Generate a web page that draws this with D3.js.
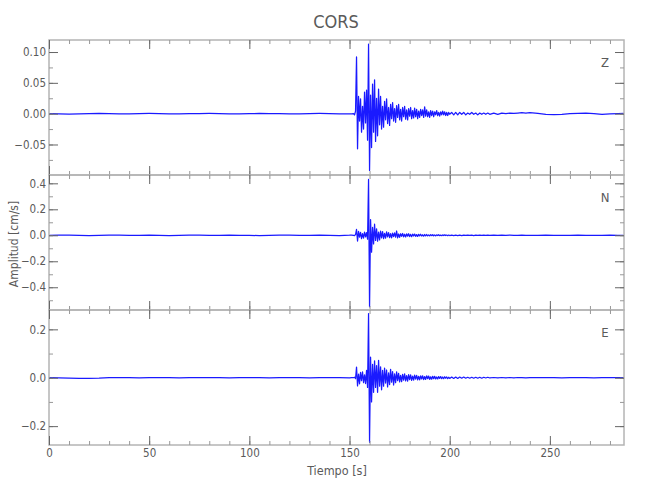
<!DOCTYPE html>
<html><head><meta charset="utf-8">
<script src="https://cdn.jsdelivr.net/npm/d3@7"></script>
<style>body{margin:0;background:#fff}</style>
</head><body><svg id="c" width="650" height="500"></svg>
<script>
// ---- DATA ----
const times = [0,5,10,15,20,25,30,35,40,45,50,55,60,65,70,75,80,85,90,95,100,105,110,115,120,125,130,135,140,145,150,151,
152,152.5,153,153.5,154,154.5,155,155.5,156,156.5,157,157.5,158,158.5,159,159.5,160,160.5,161,161.5,
162,162.5,163,163.5,164,164.5,165,165.5,166,166.5,167,167.5,168,168.5,169,169.5,170,170.5,171,171.5,
172,172.5,173,173.5,174,174.5,175,175.5,176,176.5,177,177.5,178,178.5,179,179.5,180,180.5,181,181.5,
182,182.5,183,183.5,184,184.5,185,185.5,186,186.5,187,187.5,188,188.5,189,189.5,190,190.5,191,191.5,
192,192.5,193,193.5,194,194.5,195,195.5,196,196.5,197,197.5,198,198.5,199,199.5,200,
201,202,203,204,205,206,207,208,209,210,211,212,213,214,215,216,217,218,219,220,
222,224,226,228,230,232,234,236,238,240,
244,248,252,256,260,264,268,272,276,280,284,287];

const ampZ = [0,-0.0005,-0.0008,-0.0003,0.0002,0.0004,0.0001,-0.0003,-0.0002,0.0001,0.0003,0.0002,-0.0002,-0.0004,-0.0001,0.0002,0.0003,0.0001,-0.0002,-0.0003,0,0.0003,0.0002,-0.0001,-0.0003,-0.0002,0.0002,0.0003,0.0001,-0.0002,-0.0003,-0.0005,
0.000,-0.002,0.004,0.092,-0.057,0.028,-0.012,0.024,-0.030,0.012,
-0.025,0.035,-0.015,0.038,-0.043,0.113,-0.092,0.030,-0.055,0.048,
-0.030,0.055,-0.045,0.025,-0.036,0.040,-0.018,0.028,-0.025,0.012,
-0.022,0.020,-0.010,0.024,-0.016,0.010,-0.019,0.015,-0.008,0.018,
-0.012,0.008,-0.014,0.013,-0.006,0.015,-0.010,0.007,-0.012,0.010,
-0.005,0.012,-0.009,0.006,-0.010,0.008,-0.004,0.010,-0.008,0.005,
-0.007,0.009,-0.005,0.007,-0.008,0.004,-0.006,0.007,-0.003,0.006,
-0.006,0.011,-0.004,0.006,-0.005,0.003,-0.006,0.005,-0.003,0.004,
-0.005,0.003,-0.002,0.005,-0.003,0.002,-0.004,0.003,-0.002,0.004,
-0.002,0.003,-0.003,0.002,-0.003,0.002,-0.001,
0.002,-0.002,0.002,-0.002,0.002,-0.001,0.002,-0.002,0.001,-0.001,0.002,-0.001,0.001,-0.002,0.001,-0.001,0.001,-0.001,0.001,-0.001,
0.001,-0.001,0.001,0,0.001,0.0005,0.001,0.0015,0.001,0.0015,
0.0005,-0.001,-0.0015,-0.001,0,0.0005,0.001,0,-0.001,-0.0005,0,0.0005];

const ampN = [0,0.002,0.001,-0.001,-0.002,0,0.002,0.001,-0.001,0,0.001,-0.001,-0.002,-0.001,0.001,0.002,0,-0.001,0.001,0,-0.001,-0.002,0,0.001,0.002,0,-0.001,0.001,0,-0.002,0.001,0.002,
0.000,-0.002,0.005,0.045,-0.044,0.030,-0.015,0.022,-0.025,0.012,
-0.022,0.025,-0.012,0.020,-0.030,0.430,-0.550,0.120,-0.130,0.060,
-0.067,0.085,-0.040,0.050,-0.045,0.025,-0.035,0.032,-0.020,0.028,
-0.025,0.015,-0.022,0.026,-0.012,0.020,-0.018,0.012,-0.020,0.016,
-0.010,0.018,-0.015,0.033,-0.020,0.010,-0.016,0.012,-0.008,0.014,
-0.012,0.008,-0.013,0.011,-0.007,0.012,-0.010,0.007,-0.011,0.009,
-0.006,0.009,-0.008,0.005,-0.009,0.007,-0.005,0.008,-0.006,0.004,
-0.007,0.006,-0.004,0.006,-0.005,0.003,-0.005,0.005,-0.003,0.004,
-0.004,0.003,-0.005,0.003,-0.002,0.004,-0.003,0.002,-0.003,0.003,
-0.002,0.003,-0.002,0.002,-0.003,0.002,-0.002,
0.002,-0.002,0.002,-0.002,0.002,-0.002,0.002,-0.001,0.002,-0.001,0.001,-0.002,0.001,-0.001,0.001,-0.001,0.001,-0.001,0.001,-0.001,
0.001,-0.001,0.001,0,0.001,-0.001,0,0.001,0,-0.001,
0,0.001,0,-0.001,0,0.001,0,-0.001,0,0.001,0,0];

const ampE = [0,-0.001,-0.002,-0.003,-0.003,-0.002,0,0.001,0,-0.001,0,0.001,0,-0.001,0,0.001,0.001,0,-0.001,0,0.001,0,-0.001,0,0.001,0,-0.001,0,0.001,0,-0.001,0,
0.000,0.002,-0.004,0.044,-0.034,0.015,-0.025,0.022,-0.012,0.024,
-0.020,0.012,-0.024,0.030,-0.040,0.265,-0.267,0.085,-0.100,0.055,
-0.060,0.070,-0.040,0.050,-0.060,0.072,-0.035,0.045,-0.050,0.030,
-0.035,0.040,-0.022,0.032,-0.038,0.020,-0.028,0.035,-0.018,0.025,
-0.030,0.016,-0.020,0.024,-0.012,0.018,-0.017,0.010,-0.016,0.014,
-0.010,0.016,-0.013,0.009,-0.014,0.013,-0.008,0.012,-0.011,0.007,
-0.010,0.011,-0.006,0.010,-0.009,0.006,-0.009,0.008,-0.005,0.008,
-0.008,0.005,-0.007,0.008,-0.004,0.007,-0.007,0.004,-0.006,0.006,
-0.004,0.006,-0.005,0.003,-0.005,0.005,-0.003,0.005,-0.004,0.003,
-0.004,0.004,-0.002,0.003,-0.004,0.002,-0.003,
0.003,-0.003,0.003,-0.003,0.003,-0.002,0.003,-0.002,0.002,-0.002,0.002,-0.002,0.002,-0.002,0.002,-0.002,0.002,-0.001,0.002,-0.001,
0.001,-0.001,0.001,-0.001,0.001,-0.001,0.001,0,-0.001,0,
0,0.001,0,-0.001,0,0.001,0,-0.001,0,0.001,0,0];

const channels = ["Z", "N", "E"];
const xDomain = [0, 287];
const xTickValues = [0, 50, 100, 150, 200, 250];
const zTicks = [-0.05, 0.00, 0.05, 0.10];
const nTicks = [-0.4, -0.2, 0.0, 0.2, 0.4];
const eTicks = [-0.2, 0.0, 0.2];
const zDomain = [-0.0995, 0.1195];
const nDomain = [-0.575, 0.464];
const eDomain = [-0.278, 0.280];
const titleText = "CORS";
const xLabel = "Tiempo [s]";
const yLabel = "Amplitud [cm/s]";

// ---- DRAWING ----
const FONT = "'DejaVu Sans Condensed','Liberation Sans Narrow',sans-serif";
const TXT = "#5a5a5a";
const svg = d3.select("#c");
const left = 49, right = 624, top0 = 40, ph = 135;
const x = d3.scaleLinear().domain(xDomain).range([left, right]);
const xMinor = d3.range(0, 287, 10);

const panels = [
  {name: channels[0], amp: ampZ, domain: zDomain, ticks: zTicks, minorStep: 0.025, fmt: ".2f"},
  {name: channels[1], amp: ampN, domain: nDomain, ticks: nTicks, minorStep: 0.1, fmt: ".1f"},
  {name: channels[2], amp: ampE, domain: eDomain, ticks: eTicks, minorStep: 0.1, fmt: ".1f"}
];

function styleAxis(g, major) {
  g.select(".domain").remove();
  g.selectAll(".tick line").attr("stroke", major ? "#666" : "#999").attr("stroke-width", 1);
  g.selectAll(".tick text").attr("fill", TXT).style("font-family", FONT).style("font-size", "11.5px");
}

const defs = svg.append("defs");
panels.forEach((p, i) => {
  const y0 = top0 + i * ph;
  const y = d3.scaleLinear().domain(p.domain).range([y0 + ph, y0]);
  defs.append("clipPath").attr("id", "clip" + i)
    .append("rect").attr("x", left).attr("y", y0).attr("width", right - left).attr("height", ph);

  const line = d3.line().x((d, j) => x(times[j])).y(d => y(d));
  svg.append("path").datum(p.amp)
    .attr("clip-path", `url(#clip${i})`)
    .attr("d", line).attr("fill", "none")
    .attr("stroke", "#1a1aff").attr("stroke-width", 1.25).attr("stroke-linejoin", "round");

  // frame
  svg.append("rect").attr("x", left).attr("y", y0).attr("width", right - left).attr("height", ph)
    .attr("fill", "none").attr("stroke", "#b4b4b4").attr("stroke-width", 1.5);

  const yMin = [];
  const k0 = Math.ceil(p.domain[0] / p.minorStep), k1 = Math.floor(p.domain[1] / p.minorStep);
  for (let k = k0; k <= k1; k++) yMin.push(+(k * p.minorStep).toFixed(4));

  svg.append("g").attr("transform", `translate(${left},0)`)
    .call(d3.axisLeft(y).tickValues(yMin).tickSizeInner(-4).tickSizeOuter(0).tickFormat(""))
    .call(g => styleAxis(g, false));
  svg.append("g").attr("transform", `translate(${left},0)`)
    .call(d3.axisLeft(y).tickValues(p.ticks).tickSizeInner(-9).tickSizeOuter(0).tickPadding(3).tickFormat(d3.format(p.fmt)))
    .call(g => styleAxis(g, true));
  svg.append("g").attr("transform", `translate(${right},0)`)
    .call(d3.axisRight(y).tickValues(yMin).tickSizeInner(-4).tickSizeOuter(0).tickFormat(""))
    .call(g => styleAxis(g, false));
  svg.append("g").attr("transform", `translate(${right},0)`)
    .call(d3.axisRight(y).tickValues(p.ticks).tickSizeInner(-9).tickSizeOuter(0).tickFormat(""))
    .call(g => styleAxis(g, true));
  svg.append("g").attr("transform", `translate(0,${y0})`)
    .call(d3.axisTop(x).tickValues(xMinor).tickSizeInner(-4).tickSizeOuter(0).tickFormat(""))
    .call(g => styleAxis(g, false));
  svg.append("g").attr("transform", `translate(0,${y0})`)
    .call(d3.axisTop(x).tickValues(xTickValues).tickSizeInner(-9).tickSizeOuter(0).tickFormat(""))
    .call(g => styleAxis(g, true));
  svg.append("g").attr("transform", `translate(0,${y0 + ph})`)
    .call(d3.axisBottom(x).tickValues(xMinor).tickSizeInner(-4).tickSizeOuter(0).tickFormat(""))
    .call(g => styleAxis(g, false));
  svg.append("g").attr("transform", `translate(0,${y0 + ph})`)
    .call(d3.axisBottom(x).tickValues(xTickValues).tickSizeInner(-9).tickSizeOuter(0).tickPadding(4)
      .tickFormat(i === 2 ? d3.format("d") : ""))
    .call(g => styleAxis(g, true));

  svg.append("text").attr("x", 605).attr("y", y0 + 27).attr("text-anchor", "middle")
    .attr("fill", TXT).style("font-family", FONT).style("font-size", "13px").text(p.name);
});

svg.append("text").attr("x", 336).attr("y", 28).attr("text-anchor", "middle")
  .attr("fill", TXT).style("font-family", FONT).style("font-size", "18px").text(titleText);
svg.append("text").attr("x", 337).attr("y", 475).attr("text-anchor", "middle")
  .attr("fill", TXT).style("font-family", FONT).style("font-size", "12.5px").text(xLabel);
svg.append("text").attr("transform", "translate(18,244) rotate(-90)").attr("text-anchor", "middle")
  .attr("fill", TXT).style("font-family", FONT).style("font-size", "12px").text(yLabel);
</script>
</body></html>
